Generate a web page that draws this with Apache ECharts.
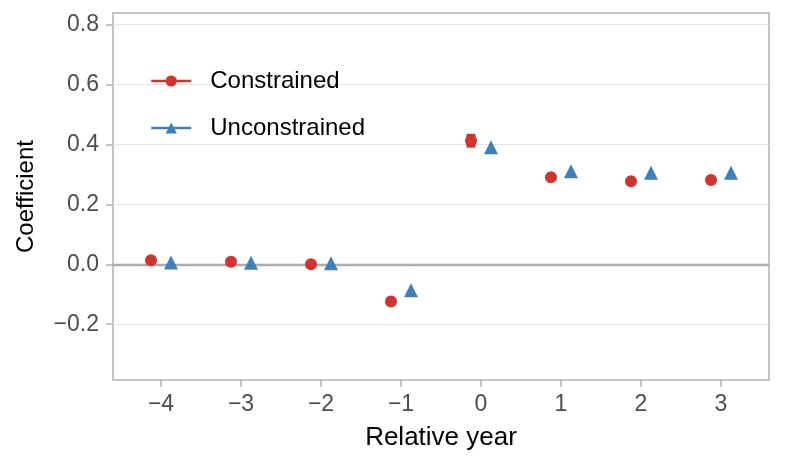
<!DOCTYPE html>
<html>
<head>
<meta charset="utf-8">
<script src="https://cdn.jsdelivr.net/npm/echarts@6/dist/echarts.min.js"></script>
<style>html,body{margin:0;padding:0;background:#fff}#c{width:785px;height:469px}</style>
</head>
<body>
<div id="c"></div>
<script>
var years = [-4, -3, -2, -1, 0, 1, 2, 3];
var constrained = [0.013, 0.008, 0.0, -0.124, 0.412, 0.29, 0.277, 0.281];
var constrainedLo = [0.009, 0.004, -0.004, -0.128, 0.389, 0.286, 0.273, 0.277];
var constrainedHi = [0.017, 0.012, 0.004, -0.120, 0.435, 0.294, 0.281, 0.285];
var unconstrained = [0.006, 0.005, 0.003, -0.087, 0.39, 0.31, 0.305, 0.305];
var unconstrainedLo = [0.003, 0.002, 0.000, -0.090, 0.387, 0.307, 0.302, 0.302];
var unconstrainedHi = [0.009, 0.008, 0.006, -0.084, 0.393, 0.313, 0.308, 0.308];
var xTicks = [-4, -3, -2, -1, 0, 1, 2, 3];
var yTicks = [-0.2, 0, 0.2, 0.4, 0.6, 0.8];
var dodge = 0.125;

var RED = '#d1342f', BLUE = '#3f80b8';
var FONT = 'Liberation Sans';

function pts(vals, off) { return years.map(function (y, i) { return [y + off, vals[i]]; }); }
function bars(lo, hi, off) { return years.map(function (y, i) { return [y + off, lo[i], hi[i]]; }); }
function fmtY(v) { return (Math.abs(v) < 1e-9 ? '0.0' : v.toFixed(1)).replace('-', '\u2212'); }
function fmtX(v) { return String(Math.round(v)).replace('-', '\u2212'); }

function errRender(color, w) {
  return function (params, api) {
    var p1 = api.coord([api.value(0), api.value(1)]);
    var p2 = api.coord([api.value(0), api.value(2)]);
    return { type: 'line', shape: { x1: p1[0], y1: p1[1], x2: p2[0], y2: p2[1] }, style: { stroke: color, lineWidth: w, lineCap: 'butt' } };
  };
}

var gridLines = yTicks.filter(function (v) { return v !== 0; }).map(function (v) {
  return { yAxis: v, lineStyle: { color: '#e3e3e3', width: 1.2, type: 'solid' } };
});
gridLines.push({ yAxis: 0, lineStyle: { color: '#acacac', width: 2.4, type: 'solid' } });

var chart = echarts.init(document.getElementById('c'), null, { renderer: 'canvas' });
chart.setOption({
  animation: false,
  backgroundColor: '#fff',
  grid: { left: 113, right: 16, top: 13, bottom: 89, show: true, borderColor: '#b3b3b3', borderWidth: 1.5, containLabel: false, outerBoundsMode: 'none' },
  xAxis: {
    type: 'value', min: -4.6, max: 3.6,
    name: 'Relative year', nameLocation: 'middle', nameGap: 45,
    nameTextStyle: { fontFamily: FONT, fontSize: 26, color: '#000' },
    axisLine: { show: false, onZero: false },
    axisTick: { show: true, customValues: xTicks, length: 7, lineStyle: { color: '#b3b3b3', width: 1.5 } },
    axisLabel: { customValues: xTicks, formatter: fmtX, fontFamily: FONT, fontSize: 23, color: '#4d4d4d', margin: 13 },
    splitLine: { show: false }
  },
  yAxis: {
    type: 'value', min: -0.386, max: 0.838,
    name: 'Coefficient', nameLocation: 'middle', nameGap: 75,
    nameTextStyle: { fontFamily: FONT, fontSize: 24, color: '#000' },
    axisLine: { show: false, onZero: false },
    axisTick: { show: true, customValues: yTicks, length: 7, lineStyle: { color: '#b3b3b3', width: 1.5 } },
    axisLabel: { customValues: yTicks, formatter: fmtY, fontFamily: FONT, fontSize: 23, color: '#4d4d4d', margin: 14 },
    splitLine: { show: false }
  },
  legend: {
    orient: 'vertical', left: 145, top: 64, z: 10,
    itemWidth: 40, itemHeight: 14, itemGap: 23,
    textStyle: { fontFamily: FONT, fontSize: 24, color: '#000', padding: [0, 0, 0, 14] },
    data: [
      { name: 'Constrained', lineStyle: { color: RED, width: 2.5, opacity: 1 } },
      { name: 'Unconstrained', lineStyle: { color: BLUE, width: 2.5, opacity: 1 } }
    ]
  },
  series: [
    {
      type: 'line', name: 'grid', data: [], silent: true, z: 0,
      markLine: { silent: true, symbol: 'none', label: { show: false }, data: gridLines, animation: false, z: 0 }
    },
    {
      type: 'line', name: 'Constrained', data: pts(constrained, -dodge),
      symbol: 'circle', symbolSize: 12, itemStyle: { color: RED },
      lineStyle: { opacity: 0, color: RED, width: 2.5 }, z: 4
    },
    {
      type: 'line', name: 'Unconstrained', data: pts(unconstrained, dodge),
      symbol: 'triangle', symbolSize: 14, itemStyle: { color: BLUE },
      lineStyle: { opacity: 0, color: BLUE, width: 2.5 }, z: 4
    },
    { type: 'custom', name: 'Constrained CI', renderItem: errRender(RED, 9), data: bars(constrainedLo, constrainedHi, -dodge), z: 3, silent: true },
    { type: 'custom', name: 'Unconstrained CI', renderItem: errRender(BLUE, 3), data: bars(unconstrainedLo, unconstrainedHi, dodge), z: 3, silent: true }
  ]
});
</script>
</body>
</html>
